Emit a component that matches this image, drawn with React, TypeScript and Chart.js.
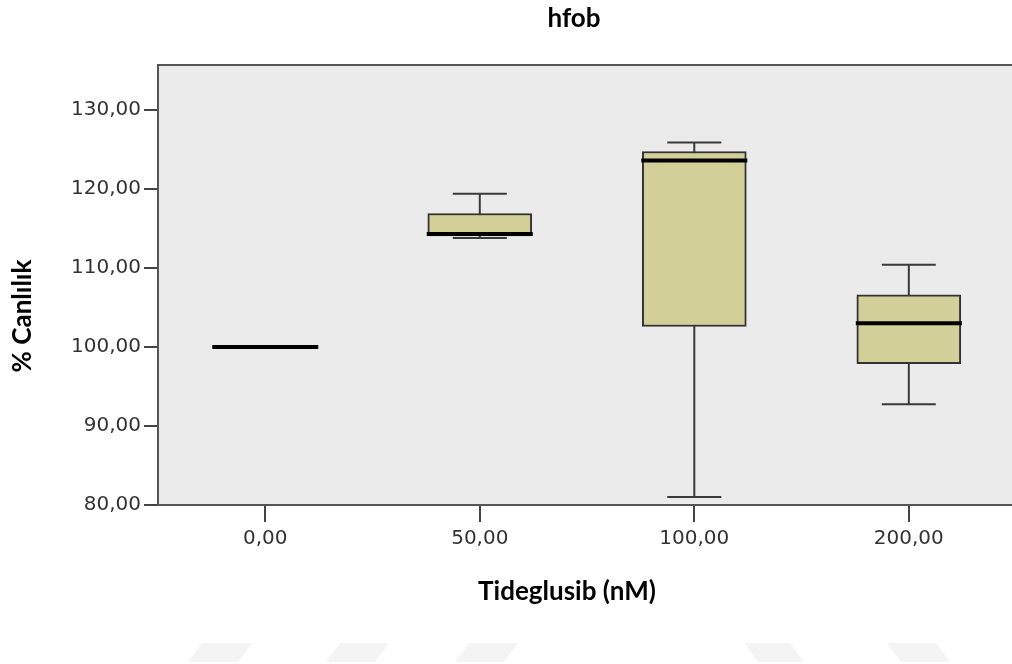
import React, { useEffect, useRef } from 'react';
import { Chart, registerables } from 'chart.js';

Chart.register(...registerables);

const categories = ['0,00', '50,00', '100,00', '200,00'];
const whiskerLow = [100, 113.8, 81.0, 92.75];
const q1 = [100, 114.05, 102.6, 97.9];
const median = [100, 114.3, 123.6, 103.0];
const q3 = [100, 116.9, 124.75, 106.6];
const whiskerHigh = [100, 119.4, 125.9, 110.4];
const yTicks = [80, 90, 100, 110, 120, 130];

const titleText = 'hfob';
const xTitle = 'Tideglusib (nM)';
const yTitle = '% Canlılık';

const BOX_W = 104;
const CAP_W = 54;

const boxPlugin = {
  id: 'boxPlugin',
  beforeDraw(chart: any) {
    const { ctx, chartArea } = chart;
    ctx.save();
    ctx.fillStyle = '#ebebeb';
    ctx.fillRect(chartArea.left, chartArea.top, chartArea.right - chartArea.left, chartArea.bottom - chartArea.top);
    // faint watermark shapes
    ctx.fillStyle = '#f4f4f4';
    const shapes: Array<[number, number, number]> = [
      [188, 252, 1], [326, 389, 1], [455, 518, 1], [744, 804, -1], [887, 950, -1],
    ];
    shapes.forEach(([a, b, dir]) => {
      const sl = 14;
      ctx.beginPath();
      if (dir > 0) {
        ctx.moveTo(a + sl, 643); ctx.lineTo(b, 643); ctx.lineTo(b - sl, 662); ctx.lineTo(a, 662);
      } else {
        ctx.moveTo(a, 643); ctx.lineTo(b - sl, 643); ctx.lineTo(b, 662); ctx.lineTo(a + sl, 662);
      }
      ctx.closePath();
      ctx.fill();
    });
    ctx.restore();
  },
  beforeDatasetsDraw(chart: any) {
    const { ctx, scales } = chart;
    const xs = scales.x, ys = scales.y;
    ctx.save();
    ctx.strokeStyle = '#3a3a3a';
    ctx.lineWidth = 2;
    categories.forEach((_, i) => {
      if (whiskerLow[i] === whiskerHigh[i]) return;
      const cx = xs.getPixelForValue(i);
      const yl = ys.getPixelForValue(whiskerLow[i]);
      const yh = ys.getPixelForValue(whiskerHigh[i]);
      ctx.beginPath();
      ctx.moveTo(cx, yl); ctx.lineTo(cx, yh);
      ctx.moveTo(cx - CAP_W / 2, yl); ctx.lineTo(cx + CAP_W / 2, yl);
      ctx.moveTo(cx - CAP_W / 2, yh); ctx.lineTo(cx + CAP_W / 2, yh);
      ctx.stroke();
    });
    ctx.restore();
  },
  afterDatasetsDraw(chart: any) {
    const { ctx, scales, chartArea } = chart;
    const xs = scales.x, ys = scales.y;
    ctx.save();
    ctx.strokeStyle = '#000';
    ctx.lineWidth = 4;
    categories.forEach((_, i) => {
      const cx = xs.getPixelForValue(i);
      const ym = ys.getPixelForValue(median[i]);
      ctx.beginPath();
      ctx.moveTo(cx - BOX_W / 2 - 1, ym);
      ctx.lineTo(cx + BOX_W / 2 + 1, ym);
      ctx.stroke();
    });
    // top frame line
    ctx.strokeStyle = '#555';
    ctx.lineWidth = 2;
    ctx.beginPath();
    ctx.moveTo(chartArea.left - 1, chartArea.top);
    ctx.lineTo(chartArea.right, chartArea.top);
    ctx.stroke();
    ctx.restore();
  },
  afterDraw(chart: any) {
    const { ctx } = chart;
    ctx.save();
    ctx.fillStyle = '#000';
    ctx.font = 'bold 26px Lato';
    ctx.textAlign = 'center';
    ctx.textBaseline = 'middle';
    ctx.fillText(titleText, 574, 19);
    ctx.fillText(xTitle, 567, 592);
    ctx.translate(23, 316);
    ctx.rotate(-Math.PI / 2);
    ctx.fillText(yTitle, 0, 0);
    ctx.restore();
  },
};

export default function App() {
  const ref = useRef<HTMLCanvasElement>(null);
  useEffect(() => {
    if (!ref.current) return;
    const chart = new Chart(ref.current, {
      type: 'bar',
      data: {
        datasets: [
          {
            data: categories.map((_, i) => ({ x: i, y: [q1[i], q3[i]] })) as any,
            backgroundColor: '#d3cf98',
            borderColor: '#333333',
            borderWidth: 2,
            borderSkipped: false,
            barThickness: BOX_W,
          },
        ],
      },
      options: {
        animation: false,
        responsive: false,
        maintainAspectRatio: false,
        layout: { padding: { top: 65, left: 0, right: 0, bottom: 0 } },
        plugins: { legend: { display: false }, tooltip: { enabled: false }, title: { display: false } },
        scales: {
          x: {
            type: 'linear',
            min: -0.5,
            max: 3.481,
            offset: false,
            afterBuildTicks: (s: any) => { s.ticks = categories.map((_, i) => ({ value: i })); },
            afterFit: (s: any) => { s.height = 159; },
            grid: { offset: false, drawOnChartArea: false, drawTicks: true, tickLength: 17, color: '#444', lineWidth: 2 },
            border: { display: true, color: '#555', width: 2 },
            ticks: {
              padding: 5,
              color: '#333',
              font: { family: 'DejaVu Sans', size: 20 },
              callback: (v: any) => categories[v] ?? '',
              maxRotation: 0,
              autoSkip: false,
            },
          },
          y: {
            type: 'linear',
            min: 80,
            max: 135.7,
            afterBuildTicks: (s: any) => { s.ticks = yTicks.map((v) => ({ value: v })); },
            afterFit: (s: any) => { s.width = 158; },
            grid: { drawOnChartArea: false, drawTicks: true, tickLength: 14, color: '#444', lineWidth: 2 },
            border: { display: true, color: '#555', width: 2 },
            ticks: {
              padding: 3,
              color: '#333',
              font: { family: 'DejaVu Sans', size: 20 },
              callback: (v: any) => Number(v).toFixed(2).replace('.', ','),
            },
          },
        },
      },
      plugins: [boxPlugin],
    });
    return () => chart.destroy();
  }, []);
  return (
    <div style={{ position: 'fixed', left: 0, top: 0, width: 1012, height: 664, background: '#fff' }}>
      <canvas ref={ref} width={1012} height={664} style={{ display: 'block' }} />
    </div>
  );
}
